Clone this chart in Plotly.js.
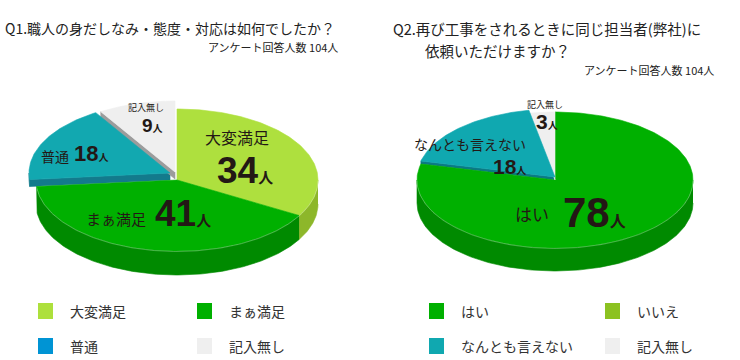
<!DOCTYPE html>
<html><head><meta charset="utf-8">
<script src="https://cdn.plot.ly/plotly-3.0.1.min.js"></script>
<style>html,body{margin:0;padding:0;background:#fff}</style>
</head><body><div id="chart" style="width:740px;height:360px"></div>
<script>
// ---------- data ----------
const q1Categories = ['大変満足', 'まぁ満足', '普通', '記入無し'];
const q1Counts = [34, 41, 18, 9];
const q2Categories = ['はい', 'いいえ', 'なんとも言えない', '記入無し'];
const q2Counts = [78, 0, 18, 3];
const q1Title = ['Q1.職人の身だしなみ・態度・対応は如何でしたか？'];
const q2Title = ['Q2.再び工事をされるときに同じ担当者(弊社)に', '依頼いただけますか？'];
const respondents = [104, 104];
const unit = '人';
const respondentLabel = 'アンケート回答人数';

// ---------- styles / positions ----------
const JP = '"Noto Sans CJK JP", sans-serif';
const NUM = '"Liberation Sans", Arial, "Noto Sans CJK JP", sans-serif';
const TXT = '#231815';
const q1Style = {
  geom: {cx: 177, cy: 180, rx: 141, ry: 71, depth: 24, pulledDepth: 7},
  top: ['#AEE03E', '#00B000', '#12A8B0', '#EFEFEF'],
  side: ['#8DB72A', '#008A00', '#137A8C', '#9C9C9C'],
  legend: ['#ADE03C', '#00B000', '#0094D4', '#EFEFEF'],
  offset: [[0, 0], [0, 0], [-7, -7], [-2, -8]],
  name: [[237, 137, 16], [116, 218, 15], [55, 156, 14], [146, 107, 9]],
  value: [[245, 170, 37, 15], [183, 213, 37, 15], [91, 153, 22, 10], [152, 125, 19, 10]],
  legendX: [38, 197], legendY: [303, 338]
};
const q2Style = {
  geom: {cx: 555, cy: 180, rx: 138, ry: 68, depth: 23, pulledDepth: 3},
  top: ['#00B000', '#8CC221', '#10A8B0', '#EFEFEF'],
  side: ['#008A00', '#6E9A18', '#0B7A84', '#BDBDBD'],
  legend: ['#00B000', '#8CC221', '#10A8B0', '#EFEFEF'],
  offset: [[0, 0], [0, 0], [0, -3], [0, 0]],
  name: [[532, 213, 17], null, [470, 144, 14], [545, 104, 9]],
  value: [[594, 212, 42, 16], null, [509, 166, 21, 10], [547, 121, 21, 10]],
  legendX: [429, 605], legendY: [303, 338]
};

const rad = Math.PI / 180;
function poly(xs, ys, color) {
  return {type: 'scatter', mode: 'lines', x: xs, y: ys, fill: 'toself', fillcolor: color,
    line: {width: 0.6, color: color}, hoverinfo: 'skip', showlegend: false};
}
function buildPie(counts, st) {
  const g = st.geom;
  const total = counts.reduce((s, v) => s + v, 0);
  const P = (t, o, dz) => [g.cx + g.rx * Math.sin(t * rad) + o[0], g.cy - g.ry * Math.cos(t * rad) + o[1] + dz];
  const wallsA = [], wallsB = [], topsA = [], topsB = [], hl = [];
  let start = 0;
  counts.forEach((v, i) => {
    if (v <= 0) return;
    const a = start, b = start + v / total * 360;
    start = b;
    const o = st.offset[i];
    const pulled = o[0] !== 0 || o[1] !== 0;
    const walls = pulled ? wallsB : wallsA;
    const d = pulled ? g.pulledDepth : g.depth;
    // outer front wall
    const lo = Math.max(a, 90), hi = Math.min(b, 270);
    if (hi > lo) {
      const xs = [], ys = [], hx = [], hy = [];
      const n = Math.ceil(hi - lo) + 1;
      for (let k = 0; k <= n; k++) { const p = P(lo + (hi - lo) * k / n, o, 0); xs.push(p[0]); ys.push(p[1]); hx.push(p[0]); hy.push(p[1] + 0.5); }
      for (let k = n; k >= 0; k--) { const p = P(lo + (hi - lo) * k / n, o, d); xs.push(p[0]); ys.push(p[1]); }
      walls.push(poly(xs, ys, st.side[i]));
      if (!pulled) hl.push({type: 'scatter', mode: 'lines', x: hx, y: hy, hoverinfo: 'skip', showlegend: false,
        line: {width: 1, color: 'rgba(255,255,255,0.28)'}});
    }
    // radial walls for pulled slices
    if (pulled) {
      const C = [g.cx + o[0], g.cy + o[1]];
      [a, b].forEach((t, j) => {
        const vis = j === 0 ? Math.sin(t * rad) < -1e-9 : Math.sin(t * rad) > 1e-9;
        if (!vis) return;
        const e = P(t, o, 0), ed = P(t, o, d);
        walls.push(poly([C[0], e[0], ed[0], C[0], C[0]], [C[1], e[1], ed[1], C[1] + d, C[1]], st.side[i]));
      });
    }
    // top face
    const xs = [g.cx + o[0]], ys = [g.cy + o[1]];
    const n = Math.ceil(b - a) + 1;
    for (let k = 0; k <= n; k++) { const p = P(a + (b - a) * k / n, o, 0); xs.push(p[0]); ys.push(p[1]); }
    xs.push(g.cx + o[0]); ys.push(g.cy + o[1]);
    (pulled ? topsB : topsA).push(poly(xs, ys, st.top[i]));
  });
  return wallsA.concat(wallsB, topsA, topsB, hl);
}

function labels(cats, counts, st) {
  const ann = [];
  cats.forEach((c, i) => {
    if (!st.name[i] || counts[i] <= 0) return;
    const n = st.name[i], v = st.value[i];
    ann.push({x: n[0], y: n[1], xref: 'x', yref: 'y', text: c, showarrow: false,
      xanchor: 'center', yanchor: 'middle', font: {family: JP, size: n[2], color: TXT}});
    ann.push({x: v[0], y: v[1], xref: 'x', yref: 'y', showarrow: false, xanchor: 'center', yanchor: 'middle',
      text: '<b>' + counts[i] + '<span style="font-size:' + v[3] + 'px">' + unit + '</span></b>',
      font: {family: NUM, size: v[2], color: TXT}});
  });
  return ann;
}
function legendItems(cats, st) {
  const shapes = [], ann = [];
  cats.forEach((c, i) => {
    const x = st.legendX[i % 2], y = st.legendY[Math.floor(i / 2)];
    shapes.push({type: 'rect', xref: 'x', yref: 'y', x0: x, x1: x + 15, y0: y, y1: y + 16,
      fillcolor: st.legend[i], line: {width: 0}});
    ann.push({x: x + 30, y: y + 8, xref: 'x', yref: 'y', text: c, showarrow: false,
      xanchor: 'left', yanchor: 'middle', font: {family: JP, size: 14, color: '#333'}});
  });
  return {shapes, ann};
}

const traces = buildPie(q1Counts, q1Style).concat(buildPie(q2Counts, q2Style));
const l1 = legendItems(q1Categories, q1Style), l2 = legendItems(q2Categories, q2Style);

const titleAnn = [
  {x: 3, y: 28, text: q1Title[0], size: 14, anchor: 'left'},
  {x: 391, y: 28, text: q2Title[0], size: 14.5, anchor: 'left'},
  {x: 423, y: 50, text: q2Title[1], size: 14.5, anchor: 'left'},
  {x: 340, y: 47, text: respondentLabel + ' ' + respondents[0] + unit, size: 11, anchor: 'right'},
  {x: 716, y: 70, text: respondentLabel + ' ' + respondents[1] + unit, size: 11, anchor: 'right'}
].map(t => ({x: t.x, y: t.y, xref: 'x', yref: 'y', text: t.text, showarrow: false,
  xanchor: t.anchor, yanchor: 'middle', font: {family: JP, size: t.size, color: '#222'}}));

const layout = {
  width: 740, height: 360, margin: {l: 0, r: 0, t: 0, b: 0},
  paper_bgcolor: '#fff', plot_bgcolor: '#fff', showlegend: false,
  xaxis: {range: [0, 740], visible: false, fixedrange: true},
  yaxis: {range: [360, 0], visible: false, fixedrange: true},
  shapes: l1.shapes.concat(l2.shapes),
  annotations: titleAnn.concat(labels(q1Categories, q1Counts, q1Style), labels(q2Categories, q2Counts, q2Style), l1.ann, l2.ann)
};
Plotly.newPlot('chart', traces, layout, {staticPlot: true, displayModeBar: false});
</script></body></html>
